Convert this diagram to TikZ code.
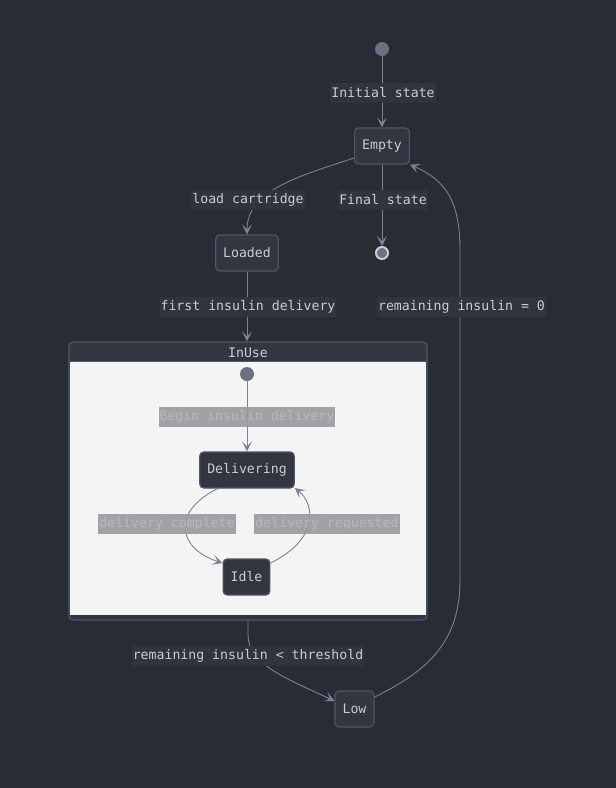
\documentclass[tikz,border=0pt]{standalone}
\usepackage{fontspec}
\setmonofont{DejaVu Sans Mono}
\usetikzlibrary{arrows.meta}
\definecolor{bgc}{HTML}{282C34}
\definecolor{nodefill}{HTML}{333641}
\definecolor{nodeline}{HTML}{50556A}
\definecolor{txt}{HTML}{C8CCD4}
\definecolor{lblbg}{HTML}{30343D}
\definecolor{edge}{HTML}{7D8293}
\definecolor{startc}{HTML}{6B7185}
\definecolor{inbody}{HTML}{F4F4F4}
\definecolor{inlbl}{HTML}{9A9A9E}
\definecolor{inlbltxt}{HTML}{B8B8BD}
\tikzset{
  x=1pt,y=-1pt,
  every node/.style={font=\ttfamily\fontsize{13.2}{15}\selectfont},
  state/.style={draw=nodeline, line width=1.2pt, fill=nodefill, rounded corners=4pt,
     text=txt, minimum height=36pt, inner xsep=7.5pt, inner ysep=0pt},
  lbl/.style={fill=lblbg, text=txt, inner xsep=1pt, inner ysep=0pt, minimum height=20pt},
  inlabel/.style={fill=inlbl, fill opacity=0.9, text opacity=1, text=inlbltxt, inner xsep=1pt, inner ysep=0pt, minimum height=20pt},
  conn/.style={draw=edge, line width=0.9pt, -{Stealth[length=10pt,width=10pt,inset=5pt]}},
  startdot/.style={circle, fill=startc, minimum size=14pt, inner sep=0pt},
}
\begin{document}
\begin{tikzpicture}
\fill[bgc] (0,0) rectangle (616,788);
\useasboundingbox (0,0) rectangle (616,788);

% composite state
\node[draw=nodeline, line width=1.2pt, fill=nodefill, rounded corners=4pt,
      minimum width=358pt, minimum height=278pt, inner sep=0pt] (InUse) at (248,481) {};
\fill[inbody] (70,362) rectangle (426,615);
\draw[nodeline, line width=1pt] (70,361.5) -- (426,361.5);
\node[text=txt, inner sep=0pt] (InUseTitle) at (248,353) {InUse};

% outer states
\node[startdot] (start) at (382,49) {};
\node[state] (Empty) at (382,146) {Empty};
\node[circle, fill=startc, draw=txt, line width=2pt, minimum size=12pt, inner sep=0pt] (final) at (382,253) {};
\node[state] (Loaded) at (247,253) {Loaded};
\node[state] (Low) at (354.5,709) {Low};

% inner states
\node[startdot] (istart) at (247,374) {};
\node[state] (Delivering) at (247,470) {Delivering};
\node[state] (Idle) at (246.5,577) {Idle};

% outer edges
\draw[conn] (start) -- (Empty);
\draw[conn] (Empty.north west |- 0,158) .. controls (300,176) and (247,190) .. (Loaded.north);
\draw[conn] (Empty) -- (final);
\draw[conn] (Loaded) -- (InUse.north -| Loaded);
\draw[conn] (InUse.south -| 248,0) -- (248,635) .. controls (248,665) and (290,680) .. (Low.west |- 0,701);
\draw[conn] (Low.east |- 0,697) .. controls (430,670) and (460,640) .. (460,580) -- (460,250)
   .. controls (460,200) and (445,180) .. (Empty.south east);

% inner edges
\draw[conn] (istart) -- (Delivering);
\draw[conn] (219,488) .. controls (172,510) and (176,548) .. (Idle.north west |- 0,563);
\draw[conn] (Idle.north east |- 0,563) .. controls (318,540) and (316,505) .. (Delivering.south east |- 0,488);

% labels
\node[lbl] (l1) at (383,93) {Initial state};
\node[lbl] (l2) at (248,200) {load cartridge};
\node[lbl] (l3) at (383,200) {Final state};
\node[lbl] (l4) at (248,307) {first insulin delivery};
\node[lbl] (l5) at (461.5,307) {remaining insulin = 0};
\node[lbl] (l6) at (248,656) {remaining insulin < threshold};
\node[inlabel] (l7) at (247,417) {Begin insulin delivery};
\node[inlabel] (l8) at (167,524) {delivery complete};
\node[inlabel] (l9) at (327,524) {delivery requested};
\end{tikzpicture}
\end{document}
